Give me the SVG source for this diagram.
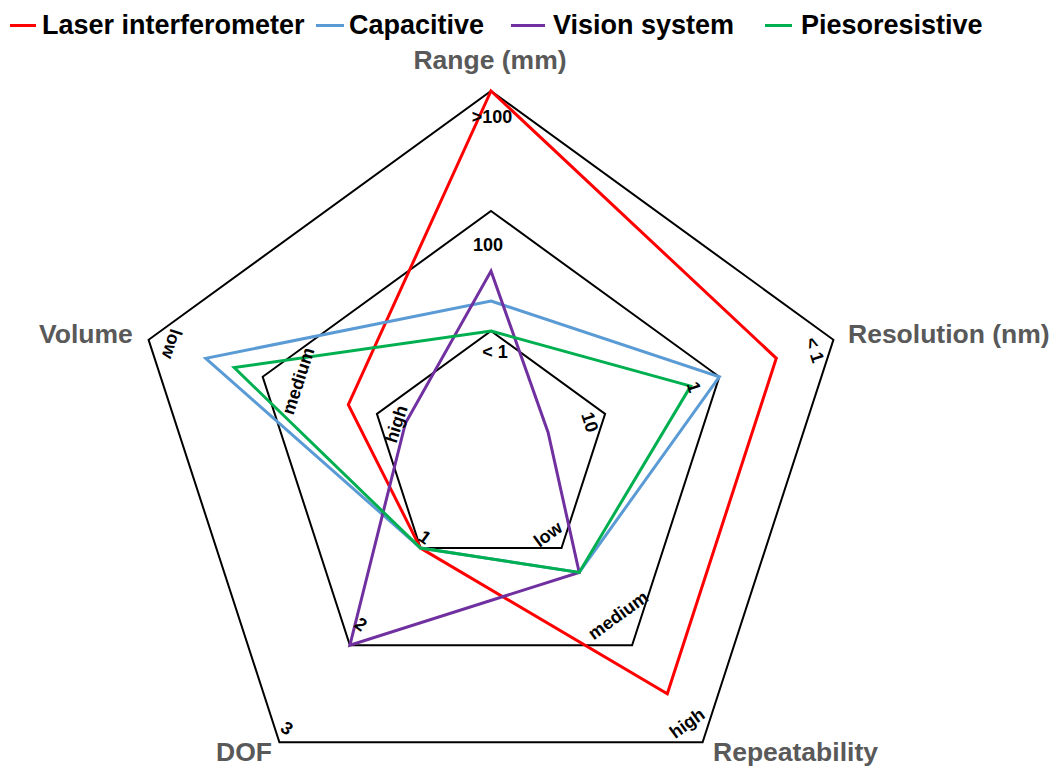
<svg xmlns="http://www.w3.org/2000/svg" width="1058" height="768" viewBox="0 0 1058 768">
<style>
.grid{fill:none;stroke:#000;stroke-width:2;stroke-linejoin:miter}
.s{fill:none;stroke-width:3;stroke-linejoin:miter}
.leg{font-family:"Liberation Sans",Arial,sans-serif;font-weight:bold;font-size:27px;fill:#000}
.ax{font-family:"Liberation Sans",Arial,sans-serif;font-weight:bold;font-size:26.5px;fill:#595959}
.tk{font-family:"Liberation Sans",Arial,sans-serif;font-weight:bold;font-size:18px;fill:#000;text-anchor:middle}
.red{stroke:#FF0000}.blue{stroke:#5B9BD5}.purple{stroke:#7030A0}.green{stroke:#00B050}
</style>
<rect width="1058" height="768" fill="#fff"/>
<g id="legend">
<line class="red" x1="10" y1="25.5" x2="36" y2="25.5" stroke-width="3"/>
<text class="leg" x="42" y="34">Laser interferometer</text>
<line class="blue" x1="316" y1="25.5" x2="344" y2="25.5" stroke-width="3"/>
<text class="leg" x="349" y="34">Capacitive</text>
<line class="purple" x1="511" y1="25.5" x2="545" y2="25.5" stroke-width="3"/>
<text class="leg" x="553" y="34">Vision system</text>
<line class="green" x1="765" y1="25.5" x2="792" y2="25.5" stroke-width="3"/>
<text class="leg" x="801" y="34">Piesoresistive</text>
</g>
<g id="grid">
<polygon class="grid" points="491,91 833.4,339.8 702.6,742.2 279.4,742.2 148.6,339.8"/>
<polygon class="grid" points="491,211 719.3,376.8 632.1,645.2 349.9,645.2 262.7,376.8"/>
<polygon class="grid" points="491,331 605.1,413.9 561.5,548.1 420.5,548.1 376.9,413.9"/>
</g>
<g id="connectors">
<polygon id="laser" class="s red" points="491,91 776.3,358.3 667.3,693.7 420.5,548.1 348.3,404.6"/>
<polygon id="capacitive" class="s blue" points="491,301 719.3,376.8 579.2,572.4 420.5,548.1 205.7,358.3"/>
<polygon id="vision" class="s purple" points="491,271 548.1,432.5 579.2,572.4 349.9,645.2 405.4,423.2"/>
<polygon id="piezo" class="s green" points="491,331 690.7,386.1 579.2,572.4 420.5,548.1 234.2,367.6"/>
</g>
<g id="axis-range">
<text class="ax" x="490" y="69" text-anchor="middle">Range (mm)</text>
<text class="tk" x="492" y="123">&gt;100</text>
<text class="tk" x="488" y="251">100</text>
<text class="tk" x="495" y="358">&lt; 1</text>
</g>
<g id="axis-resolution">
<text class="ax" x="848" y="343">Resolution (nm)</text>
<text class="tk" transform="translate(815,350) rotate(72)" dy="0.35em">&lt; 1</text>
<text class="tk" transform="translate(694,387) rotate(72)" dy="0.35em">1</text>
<text class="tk" transform="translate(590,422) rotate(72)" dy="0.35em">10</text>
</g>
<g id="axis-repeatability">
<text class="ax" x="713" y="761">Repeatability</text>
<text class="tk" transform="translate(687,723) rotate(-36)" dy="0.35em">high</text>
<text class="tk" transform="translate(618,615) rotate(-36)" dy="0.35em">medium</text>
<text class="tk" transform="translate(548,534) rotate(-36)" dy="0.35em">low</text>
</g>
<g id="axis-dof">
<text class="ax" x="216" y="761">DOF</text>
<text class="tk" transform="translate(287,728) rotate(36)" dy="0.35em">3</text>
<text class="tk" transform="translate(361,624) rotate(36)" dy="0.35em">2</text>
<text class="tk" transform="translate(425,537) rotate(36)" dy="0.35em">1</text>
</g>
<g id="axis-volume">
<text class="ax" x="39" y="343">Volume</text>
<text class="tk" transform="translate(172,344) rotate(108)" dy="0.35em">low</text>
<text class="tk" transform="translate(298,381) rotate(-72)" dy="0.35em">medium</text>
<text class="tk" transform="translate(396,424) rotate(-72)" dy="0.35em">high</text>
</g>
</svg>
